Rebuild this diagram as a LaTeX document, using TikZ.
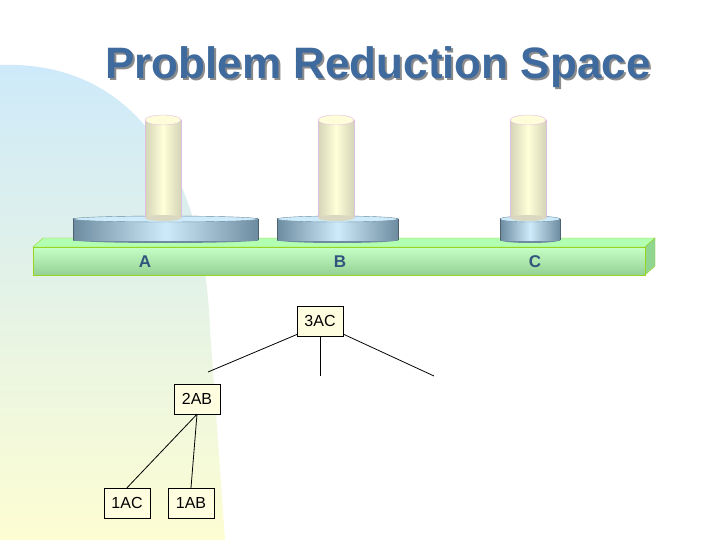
\documentclass[tikz,border=0pt]{standalone}
\usepackage{fontspec}
\setmainfont{Liberation Sans}
\definecolor{titleblue}{HTML}{3F6A9E}
\definecolor{diskedge}{HTML}{6E8CA0}
\definecolor{diskmid}{HTML}{CDEBFA}
\definecolor{blobtop}{HTML}{CDE9FA}
\definecolor{blobmid}{HTML}{E6F4EC}
\definecolor{blobbot}{HTML}{FDFDD2}
\begin{document}
\begin{tikzpicture}[x=1pt,y=-1pt,
 box/.style={draw=black,fill=yellow!12,minimum width=46pt,minimum height=30pt,inner sep=1pt,font=\fontsize{16}{16}\selectfont},
 lbl/.style={text=titleblue!80!black,font=\bfseries\fontsize{17}{17}\selectfont},
 edge/.style={draw=black,line width=0.8pt}]
\useasboundingbox (0,0) rectangle (720,540);
\fill[white] (0,0) rectangle (720,540);
% background blob
\shade[top color=blobtop, middle color=blobmid, bottom color=blobbot]
 (0,65) .. controls (140,60) and (205,180) .. (210,330) -- (225,540) -- (0,540) -- cycle;
% title
\node[text=black!45,font=\bfseries\fontsize{44}{44}\selectfont] at (380,69) {Problem Reduction Space};
\node[text=titleblue,font=\bfseries\fontsize{44}{44}\selectfont] (title) at (378,67) {Problem Reduction Space};
% board
\fill[green!30!white,draw=yellow!60!green] (33,247) -- (43,238) -- (655,238) -- (645,247) -- cycle;
\fill[green!45!gray!60,draw=yellow!60!green] (645,247) -- (655,238) -- (655,266) -- (645,275) -- cycle;
\shade[top color=green!22!white,bottom color=green!40!gray!60] (33,247) rectangle (645,275);
\draw[yellow!60!green] (33,247) rectangle (645,275);
% disks
\foreach \l/\r in {73/258,277/398,500/560}{
 \fill[diskedge] ({(\l+\r)/2},240) ellipse ({(\r-\l)/2} and 3);
 \shade[left color=diskedge, right color=diskedge, middle color=diskmid] (\l,219) rectangle (\r,240);
 \fill[diskmid,draw=diskedge] ({(\l+\r)/2},219) ellipse ({(\r-\l)/2} and 3);
 \draw[diskedge!70!black] (\l,219) -- (\l,240) (\r,219) -- (\r,240);
}
% pegs
\foreach \c in {163,336,528}{
 \shade[left color=yellow!25!gray!45,right color=yellow!25!gray!45,middle color=yellow!15] (\c-18,120) rectangle (\c+18,218);
 \draw[violet!25] (\c-18,120) -- (\c-18,218) (\c+18,120) -- (\c+18,218);
 \fill[yellow!15,draw=violet!25] (\c,120) ellipse (18 and 5);
 \fill[yellow!25!gray!45] (\c,218) ellipse (18 and 3);
}
\node[lbl] (A) at (145,262) {A};
\node[lbl] (B) at (340,262) {B};
\node[lbl] (C) at (535,262) {C};
% tree
\node[box] (n3) at (320,321) {3AC};
\node[box] (n2) at (197,399) {2AB};
\node[box] (n1a) at (127,503) {1AC};
\node[box] (n1b) at (191,503) {1AB};
\coordinate (e1) at (208,372);
\coordinate (e2) at (320,376);
\coordinate (e3) at (434,376);
\draw[edge] (298,334) -- (e1);
\draw[edge] (n3.south) -- (e2);
\draw[edge] (343,334) -- (e3);
\draw[edge] (n2.south) -- (n1a.north);
\draw[edge] (n2.south) -- (n1b.north);
\end{tikzpicture}
\end{document}
